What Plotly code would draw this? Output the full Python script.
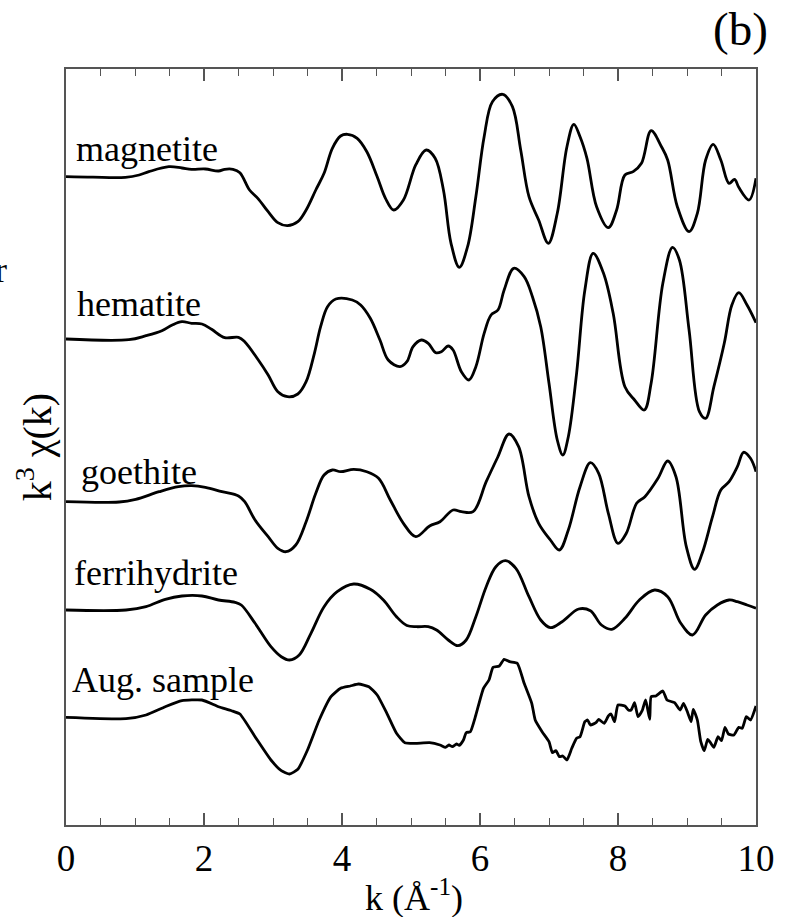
import plotly.graph_objects as go

# ---- data (k in 1/Angstrom, k^3 chi(k) in arbitrary units, deviation from each trace baseline) ----
mag_k = [0, 0.39, 0.86, 1.06, 1.2, 1.49, 1.68, 1.82, 2.02, 2.21, 2.30, 2.42, 2.52, 2.66, 2.78, 2.93, 3.07, 3.21, 3.36, 3.48,
         3.62, 3.74, 3.86, 3.98, 4.08, 4.22, 4.36, 4.51, 4.63, 4.75, 4.89, 5.07, 5.22, 5.35, 5.47, 5.58, 5.70, 5.82, 5.94,
         6.06, 6.18, 6.33, 6.47, 6.59, 6.71, 6.85, 6.99, 7.12, 7.26, 7.36, 7.45, 7.55, 7.69, 7.86, 7.98, 8.10, 8.22, 8.34,
         8.48, 8.63, 8.72, 8.86, 9.03, 9.15, 9.27, 9.38, 9.49, 9.61, 9.69, 9.75, 9.90, 10.0]
mag_v = [0, -0.5, -0.6, 1.7, 5, 10, 8.7, 7.4, 7.7, 5.7, 7.4, 7.4, 4, -13.3, -21.6, -35, -46, -49, -45, -33.3,
         -13.3, 3.4, 28.4, 40.7, 42.4, 38.4, 25, 0, -21.6, -33.3, -23.3, 12, 26.7, 18.4, -13.3, -66.6, -90.6, -70, -20,
         40, 75, 82.4, 70, 26.7, -20, -43.3, -66.6, -36.6, 30, 52.4, 40, 18.4, -30, -51, -33.3, 1.7, 5, 13.4,
         46, 30, 16.7, -30, -55, -36.6, 16.7, 32.4, 16.7, -6.6, -2.6, -10.6, -23.3, -1.6]

hem_k = [0, 0.91, 1.16, 1.39, 1.54, 1.68, 1.82, 1.97, 2.11, 2.30, 2.50, 2.59, 2.78, 2.93, 3.07, 3.21, 3.36, 3.48, 3.60,
         3.69, 3.79, 3.91, 4.15, 4.27, 4.41, 4.55, 4.67, 4.84, 4.94, 5.03, 5.15, 5.25, 5.36, 5.44, 5.54, 5.61, 5.73, 5.84,
         5.94, 6.06, 6.16, 6.26, 6.35, 6.49, 6.64, 6.76, 6.88, 7.00, 7.12, 7.20, 7.28, 7.40, 7.52, 7.64, 7.79, 7.93, 8.10,
         8.24, 8.38, 8.48, 8.65, 8.79, 8.89, 9.03, 9.18, 9.27, 9.39, 9.54, 9.65, 9.75, 9.87, 10.0]
hem_v = [0, -0.7, 3.3, 8.3, 14, 17.3, 15.7, 15, 9.7, 1.3, 1.7, -2.7, -20.3, -36, -52.7, -57.7, -55, -42.7, -14.3,
         12.3, 32.3, 40, 39, 34, 20.7, -1, -21, -27.7, -22.7, -7.7, -1, -4.3, -13.7, -12.7, -7, -11, -32.7, -41,
         -27.7, 5.7, 24, 29, 49, 70.7, 62.3, 42.3, 12.3, -44.3, -101, -116, -97.7, -34.3, 49, 85.7, 65.7, 25.7, -47.7,
         -61, -71, -44.3, 55.7, 91.7, 79, 9, -72.7, -79.3, -47.7, -4.3, 34, 46.3, 34, 16.3]

goe_k = [0, 0.77, 1.01, 1.35, 1.63, 1.82, 2.02, 2.26, 2.50, 2.59, 2.74, 2.93, 3.07, 3.19, 3.33, 3.48, 3.62, 3.74, 3.86,
         3.98, 4.17, 4.36, 4.53, 4.70, 4.89, 5.07, 5.27, 5.42, 5.61, 5.73, 5.90, 6.09, 6.26, 6.42, 6.56, 6.71, 6.85, 7.02,
         7.15, 7.28, 7.45, 7.60, 7.72, 7.86, 8.00, 8.12, 8.27, 8.39, 8.58, 8.72, 8.84, 8.99, 9.11, 9.22, 9.37, 9.49, 9.61,
         9.73, 9.82, 9.92, 10.0]
goe_v = [0, -0.3, 2.4, 10, 15, 16, 14.4, 10, 5.7, 0, -18.3, -35, -46.6, -50, -43.3, -20, 8.4, 26.7, 31.7,
         30, 32.4, 30, 23.4, 1.7, -21.6, -35, -24.3, -20, -8.3, -10, -10, 20, 45, 67.7, 55, 5, -21.6, -38.3,
         -48.3, -28.3, 15, 39, 28.4, -11.6, -41.6, -31.6, -1.6, 5, 23.4, 40.7, 25, -45, -67.6, -51.6, -15, 11.7, 20,
         35, 49.4, 43.4, 30]

fer_k = [0, 0.87, 1.16, 1.44, 1.68, 1.97, 2.21, 2.45, 2.54, 2.74, 2.97, 3.12, 3.24, 3.38, 3.55, 3.74, 3.93, 4.17, 4.41,
         4.60, 4.79, 4.94, 5.08, 5.25, 5.37, 5.54, 5.68, 5.80, 5.94, 6.09, 6.23, 6.37, 6.52, 6.71, 6.88, 7.02, 7.19, 7.43,
         7.60, 7.76, 7.91, 8.10, 8.31, 8.53, 8.72, 8.91, 9.08, 9.27, 9.44, 9.61, 9.73, 9.87, 10.0]
fer_v = [0, 0, 3.3, 10.7, 14, 14, 10, 7.7, 5, -13.3, -36.7, -46.7, -50, -45, -23.3, 3.3, 18.3, 26, 20.7,
         10, -6.7, -15.5, -16.7, -16.7, -20, -30, -35.7, -30, -6.7, 23.3, 43.3, 49.3, 41.7, 13.3, -10, -17.7, -11.7, 1,
         -0.7, -15, -19.3, -8.3, 10, 20, 13.3, -13.3, -25, -5, 5, 10, 8.3, 5, 1.7]

aug_k = [0, 0.87, 1.16, 1.44, 1.68, 1.97, 2.21, 2.40, 2.52, 2.74, 2.97, 3.12, 3.24, 3.36, 3.50, 3.67, 3.84, 3.98, 4.12,
         4.24, 4.39, 4.51, 4.65, 4.79, 4.91, 5.06, 5.27, 5.42, 5.50, 5.55, 5.60, 5.66, 5.70, 5.76, 5.80, 5.86, 5.94, 6.05,
         6.13, 6.19, 6.28, 6.35, 6.43, 6.54, 6.64, 6.75, 6.80, 6.90, 7.00, 7.05, 7.10, 7.15, 7.20, 7.26, 7.33, 7.40, 7.45,
         7.52, 7.56, 7.60, 7.68, 7.72, 7.80, 7.86, 7.90, 7.95, 8.00, 8.10, 8.15, 8.19, 8.24, 8.29, 8.35, 8.40, 8.46, 8.48,
         8.55, 8.65, 8.71, 8.82, 8.90, 8.95, 9.01, 9.06, 9.09, 9.15, 9.20, 9.25, 9.30, 9.34, 9.39, 9.45, 9.50, 9.55, 9.60,
         9.68, 9.75, 9.80, 9.86, 9.92, 10.0]
aug_v = [0, -1.4, 2.3, 10.6, 16.6, 17.3, 10.6, 6.6, 3.3, -19.4, -42.7, -53.4, -56.7, -52, -32.7, -2.7, 20.6, 29, 31.3,
         33.3, 30.6, 22.3, 4, -16, -25.4, -26, -25.4, -27.7, -30, -27.7, -29.4, -26.7, -28, -22.7, -15.4, -14.4, 2.3, 29,
         37.3, 50, 51.3, 58, 55.6, 54, 34, 14, -2.7, -14.4, -24.4, -35.4, -33.4, -39.4, -38.7, -42.7, -31, -21, -19.4,
         -4.4, -2.7, -7.7, -5.4, -2, -6, 1.3, 3.3, -4.4, 12.3, 11.3, 7.3, 7.3, 14.6, 0.6, 6.6, 17.3, -2, 20.6,
         21.3, 26.3, 17.3, 14.6, 7.3, 14, 4.6, -4.4, 8, -2.7, -24.4, -33.4, -22, -25.4, -30, -19.4, -23.4, -10, -16.7,
         -17.7, -10, -11, 0.6, -2.7, 11.3]

names = ["magnetite", "hematite", "goethite", "ferrihydrite", "Aug. sample"]
offsets = [648.3, 486.0, 323.3, 215.0, 107.7]
series_k = [mag_k, hem_k, goe_k, fer_k, aug_k]
series_v = [mag_v, hem_v, goe_v, fer_v, aug_v]
x_ticks = [0, 2, 4, 6, 8, 10]

# label anchor positions (k, y) for text labels
label_pos = [(0.11, 676), (0.13, 521), (0.19, 353), (0.085, 252.5), (0.06, 145)]

FONT = "Liberation Serif"
AXC = "#555555"

fig = go.Figure()
for i, (kk, vv) in enumerate(zip(series_k, series_v)):
    smooth = 0.5 if i == 4 else 1.0
    fig.add_trace(go.Scatter(
        x=kk, y=[offsets[i] + v for v in vv], mode="lines",
        line=dict(color="black", width=2.8, shape="spline", smoothing=smooth),
        showlegend=False, hoverinfo="skip"))

annotations = []
for name, (lx, ly) in zip(names, label_pos):
    annotations.append(dict(x=lx, y=ly, xref="x", yref="y", text=name, showarrow=False,
                            xanchor="left", yanchor="middle",
                            font=dict(family=FONT, size=36, color="black")))
annotations.append(dict(x=0.977, y=1.0529, xref="paper", yref="paper", text="(b)", showarrow=False,
                        xanchor="center", yanchor="middle", font=dict(family=FONT, size=47, color="black")))
annotations.append(dict(x=-0.0459, y=0.5, xref="paper", yref="paper", text="k<sup>3</sup> χ(k)",
                        showarrow=False, textangle=-90, xanchor="center", yanchor="middle",
                        font=dict(family=FONT, size=40, color="black")))
annotations.append(dict(x=0.504, y=-0.093, xref="paper", yref="paper", text="k (Å<sup>-1</sup>)",
                        showarrow=False, xanchor="center", yanchor="middle",
                        font=dict(family=FONT, size=36, color="black")))
annotations.append(dict(x=-0.0832, y=0.734, xref="paper", yref="paper", text="r",
                        showarrow=False, xanchor="right", yanchor="middle",
                        font=dict(family=FONT, size=36, color="black")))

fig.update_layout(
    width=787, height=917,
    margin=dict(l=66, r=24, t=69, b=92, pad=0),
    paper_bgcolor="white", plot_bgcolor="white",
    font=dict(family=FONT, color="black"),
    annotations=annotations,
    xaxis=dict(range=[0, 10], tickvals=x_ticks, ticktext=[str(t) for t in x_ticks],
               ticks="inside", ticklen=12, tickwidth=1.5, tickcolor=AXC,
               minor=dict(dtick=0.5, ticks="inside", ticklen=7, tickwidth=1.2, tickcolor=AXC),
               showline=True, linecolor=AXC, linewidth=1.6, mirror="ticks",
               showgrid=False, zeroline=False,
               tickfont=dict(family=FONT, size=37, color="black")),
    yaxis=dict(range=[0, 756], showticklabels=False, ticks="", showline=True, linecolor=AXC,
               linewidth=1.6, mirror=True, showgrid=False, zeroline=False),
)

fig.write_html("out.html")
